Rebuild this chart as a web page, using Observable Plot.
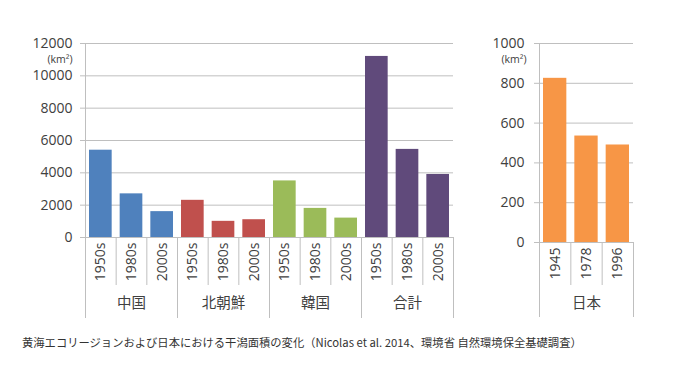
<!DOCTYPE html>
<html>
<head>
<meta charset="utf-8">
<script src="https://cdn.jsdelivr.net/npm/d3@7"></script>
<script src="https://cdn.jsdelivr.net/npm/@observablehq/plot@0.6"></script>
<style>
  html, body { margin: 0; padding: 0; background: #fff; }
  #wrap { position: relative; width: 679px; height: 380px; overflow: hidden; }
  #left { position: absolute; left: 0; top: 0; }
  #right { position: absolute; left: 470px; top: 0; }
  #caption { position: absolute; left: 22px; top: 334px; font-family: "Noto Sans CJK JP", sans-serif; font-size: 11.3px; color: #333; white-space: nowrap; }
</style>
</head>
<body>
<div id="wrap">
  <div id="left"></div>
  <div id="right"></div>
  <div id="caption"></div>
</div>
<script>
// ---- data ----
const groups = ["中国", "北朝鮮", "韓国", "合計"];
const decades = ["1950s", "1980s", "2000s"];
const china = [5400, 2700, 1600];
const northKorea = [2300, 1000, 1100];
const southKorea = [3500, 1800, 1200];
const total = [11200, 5450, 3900];
const groupColors = ["#4f81bd", "#c0504d", "#9bbb59", "#604a7b"];
const leftTicks = [0, 2000, 4000, 6000, 8000, 10000, 12000];

const japanGroup = ["日本"];
const japanYears = ["1945", "1978", "1996"];
const japan = [825, 535, 490];
const japanColor = "#f79646";
const rightTicks = [0, 200, 400, 600, 800, 1000];

const unitLabel = "(km²)";
const captionText = "黄海エコリージョンおよび日本における干潟面積の変化（Nicolas et al. 2014、環境省 自然環境保全基礎調査）";

// ---- tables ----
const seriesByGroup = [china, northKorea, southKorea, total];
const leftData = [];
groups.forEach((g, gi) => {
  decades.forEach((dec, di) => {
    leftData.push({group: g, decade: dec, i: gi * decades.length + di, value: seriesByGroup[gi][di]});
  });
});
const nLeft = leftData.length;
const rightData = japanYears.map((y, i) => ({group: japanGroup[0], year: y, i, value: japan[i]}));
const nRight = rightData.length;

const grid = "#bfbfbf";
const textColor = "#404040";
const font = "'Open Sans', 'Noto Sans CJK JP', sans-serif";

function buildChart({data, n, labels, groupNames, perGroup, yTicks, yMax, colorDomain, colorRange,
                     width, height, marginLeft, marginRight, marginTop, marginBottom,
                     shortTick, longTick, groupPad, yPad}) {
  const centers = d3.range(n).map(i => i + 0.5);
  const groupCenters = groupNames.map((g, k) => k * perGroup + perGroup / 2);
  const groupBounds = d3.range(0, n + 1, perGroup);
  return Plot.plot({
    width, height, marginLeft, marginRight, marginTop, marginBottom,
    style: {fontFamily: font, fontSize: "14px", color: textColor, background: "transparent", overflow: "visible"},
    x: {domain: [0, n]},
    y: {domain: [0, yMax]},
    color: {domain: colorDomain, range: colorRange},
    marks: [
      Plot.gridY(yTicks, {stroke: grid, strokeOpacity: 1}),
      Plot.axisY(yTicks, {tickSize: 5, tickPadding: yPad, stroke: grid, strokeOpacity: 1, fill: textColor, label: null,
                          fontSize: 14, tickFormat: d => String(d)}),
      Plot.rectY(data, {x1: "i", x2: d => d.i + 1, y: "value", fill: "group", insetLeft: 4, insetRight: 4}),
      Plot.ruleX([0], {stroke: grid}),
      Plot.ruleY([0], {stroke: grid}),
      Plot.axisX(d3.range(n + 1), {tickSize: shortTick, stroke: grid, strokeOpacity: 1, tickFormat: () => "", label: null}),
      Plot.axisX(groupBounds, {tickSize: longTick, stroke: grid, strokeOpacity: 1, tickFormat: () => "", label: null}),
      Plot.axisX(centers, {tickSize: 0, tickPadding: 5, tickRotate: -90, fill: textColor, label: null, fontSize: 14,
                           tickFormat: v => labels[Math.floor(v)]}),
      Plot.axisX(groupCenters, {tickSize: 0, tickPadding: groupPad, fill: textColor, label: null, fontSize: 14.5,
                                tickFormat: v => groupNames[Math.floor(v / perGroup)]}),
      Plot.text([unitLabel], {frameAnchor: "top-left", dx: -13, dy: 12, textAnchor: "end", fill: textColor, fontSize: 10.5})
    ]
  });
}

const leftChart = buildChart({
  data: leftData, n: nLeft, labels: leftData.map(d => d.decade), groupNames: groups, perGroup: decades.length,
  yTicks: leftTicks, yMax: 12000, colorDomain: groups, colorRange: groupColors,
  width: 470, height: 330, marginLeft: 85, marginRight: 17, marginTop: 43, marginBottom: 93,
  shortTick: 48, longTick: 81, groupPad: 60, yPad: 8
});
document.getElementById("left").appendChild(leftChart);

const rightChart = buildChart({
  data: rightData, n: nRight, labels: japanYears, groupNames: japanGroup, perGroup: 3,
  yTicks: rightTicks, yMax: 1000, colorDomain: japanGroup, colorRange: [japanColor],
  width: 209, height: 330, marginLeft: 69, marginRight: 46, marginTop: 43, marginBottom: 88,
  shortTick: 43, longTick: 75, groupPad: 55, yPad: 10
});
document.getElementById("right").appendChild(rightChart);

document.getElementById("caption").textContent = captionText;
</script>
</body>
</html>
